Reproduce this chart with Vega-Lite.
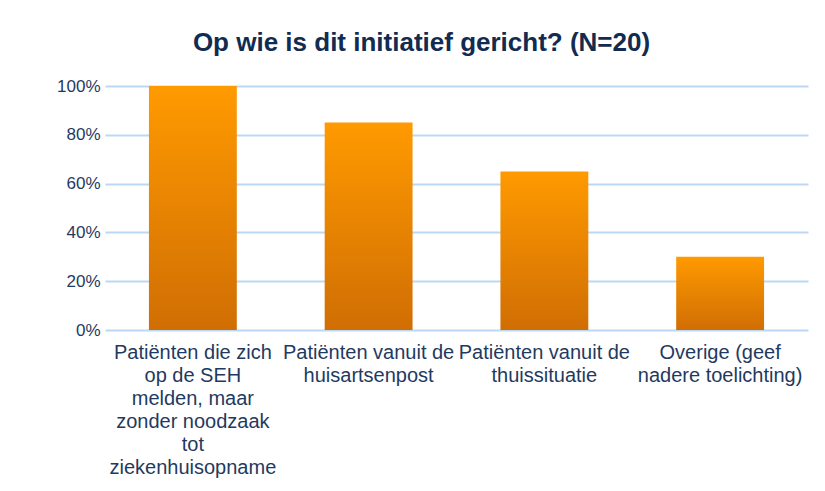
{
  "$schema": "https://vega.github.io/schema/vega-lite/v6.json",
  "width": 703,
  "height": 244,
  "autosize": {"type": "none"},
  "padding": {"left": 105, "top": 86, "right": 17, "bottom": 161},
  "background": "white",
  "config": {
    "view": {"stroke": null},
    "font": "Liberation Sans"
  },
  "title": {
    "text": "Op wie is dit initiatief gericht? (N=20)",
    "font": "Liberation Sans",
    "fontSize": 26,
    "fontWeight": "bold",
    "color": "#112B51",
    "anchor": "middle",
    "baseline": "alphabetic",
    "offset": 0,
    "dx": -35
  },
  "data": {
    "values": [
      {"categorie": "Patiënten die zich|op de SEH|melden, maar|zonder noodzaak|tot|ziekenhuisopname", "aandeel": 1.0},
      {"categorie": "Patiënten vanuit de|huisartsenpost", "aandeel": 0.85},
      {"categorie": "Patiënten vanuit de|thuissituatie", "aandeel": 0.65},
      {"categorie": "Overige (geef|nadere toelichting)", "aandeel": 0.30}
    ]
  },
  "mark": {
    "type": "bar",
    "color": {
      "gradient": "linear",
      "x1": 0, "y1": 0, "x2": 0, "y2": 1,
      "stops": [
        {"offset": 0, "color": "#FF9A00"},
        {"offset": 1, "color": "#D06E04"}
      ]
    }
  },
  "encoding": {
    "x": {
      "field": "categorie",
      "type": "nominal",
      "sort": null,
      "scale": {"paddingInner": 0.5, "paddingOuter": 0.25},
      "axis": {
        "title": null,
        "labelAngle": 0,
        "labelExpr": "split(datum.value, '|')",
        "labelFontSize": 20,
        "labelColor": "#1F3A60",
        "labelLineHeight": 23,
        "labelPadding": 12,
        "labelLimit": 0,
        "labelOverlap": false,
        "labelBaseline": "top",
        "domain": false,
        "ticks": false
      }
    },
    "y": {
      "field": "aandeel",
      "type": "quantitative",
      "scale": {"domain": [0, 1]},
      "axis": {
        "title": null,
        "format": ".0%",
        "values": [0, 0.2, 0.4, 0.6, 0.8, 1.0],
        "labelFontSize": 17,
        "labelColor": "#1F3A60",
        "labelPadding": 5,
        "domain": false,
        "ticks": false,
        "gridColor": "#BCD7F5",
        "gridWidth": 2
      }
    }
  }
}
